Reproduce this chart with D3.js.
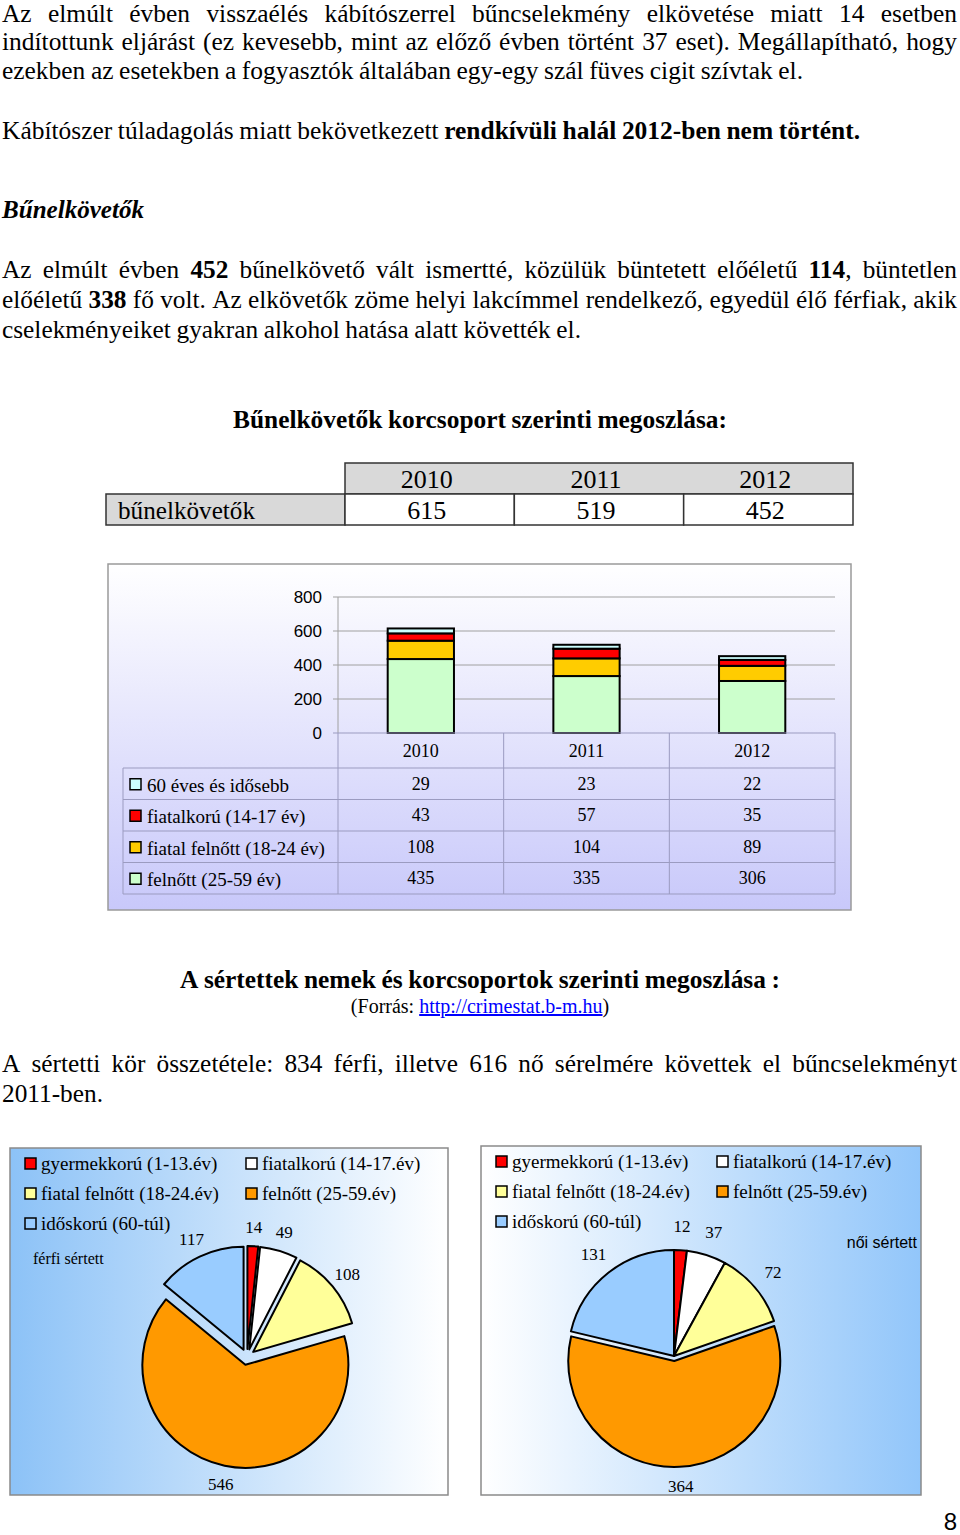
<!DOCTYPE html>
<html>
<head>
<meta charset="utf-8">
<script src="https://cdn.jsdelivr.net/npm/d3@7"></script>
<style>
  body { margin: 0; background: #fff; }
  svg { display: block; }
</style>
</head>
<body>
<div id="page"></div>
<script>
// ---- data ----
const years = ["2010", "2011", "2012"];
const offendersTotal = [615, 519, 452];

const ageGroups = ["felnőtt (25-59 év)", "fiatal felnőtt (18-24 év)", "fiatalkorú (14-17 év)", "60 éves és idősebb"];
const adults = [435, 335, 306];
const youngAdults = [108, 104, 89];
const juveniles = [43, 57, 35];
const elderly = [29, 23, 22];
const yTicks = [0, 200, 400, 600, 800];

const victimGroups = ["gyermekkorú (1-13.év)", "fiatalkorú (14-17.év)", "fiatal felnőtt (18-24.év)", "felnőtt (25-59.év)", "időskorú (60-túl)"];
const maleVictims = [14, 49, 108, 546, 117];
const femaleVictims = [12, 37, 72, 364, 131];

// ---- text ----
const para1 = [
  "Az elmúlt évben visszaélés kábítószerrel bűncselekmény elkövetése miatt 14 esetben",
  "indítottunk eljárást (ez kevesebb, mint az előző évben történt 37 eset).  Megállapítható, hogy",
  "ezekben az esetekben a fogyasztók általában egy-egy szál füves cigit szívtak el."
];
const deathLine = "Kábítószer túladagolás miatt bekövetkezett *rendkívüli* *halál* *2012-ben* *nem* *történt.*";
const offHeading = "Bűnelkövetők";
const para2 = [
  "Az elmúlt évben *452* bűnelkövető vált ismertté, közülük büntetett előéletű *114*, büntetlen",
  "előéletű *338* fő volt. Az elkövetők zöme helyi lakcímmel rendelkező, egyedül élő férfiak, akik",
  "cselekményeiket gyakran alkohol hatása alatt követték el."
];
const barTitle = "Bűnelkövetők korcsoport szerinti megoszlása:";
const tableLabel = "bűnelkövetők";
const victimTitle = "A sértettek nemek és korcsoportok szerinti megoszlása :";
const sourceText = "(Forrás: ";
const sourceLink = "http://crimestat.b-m.hu";
const para3 = [
  "A sértetti kör összetétele: 834 férfi, illetve 616 nő sérelmére követtek el bűncselekményt",
  "2011-ben."
];

const serif = "'Liberation Serif','Times New Roman',serif";
const sans = "'Liberation Sans',Arial,sans-serif";

const svg = d3.select("#page").append("svg")
  .attr("width", 960)
  .attr("height", 1535);

const defs = svg.append("defs");
function linGrad(id, x2, y2, c1, c2) {
  const g = defs.append("linearGradient").attr("id", id)
    .attr("x1", 0).attr("y1", 0).attr("x2", x2).attr("y2", y2);
  g.append("stop").attr("offset", "0%").attr("stop-color", c1);
  g.append("stop").attr("offset", "100%").attr("stop-color", c2);
}
linGrad("barBg", 0, 1, "#ffffff", "#c8c8fa");
linGrad("pieBgL", 1, 0, "#8cc2f7", "#ffffff");
linGrad("pieBgR", 1, 0, "#ffffff", "#92c6fa");

// place a line word by word; *word* = bold. returns the glyph scale used
function textLine(str, o) {
  const g = svg.append("g");
  const words = str.trim().split(/\s+/);
  const size = o.size || 26;
  const nodes = words.map(w => {
    const t = g.append("text")
      .attr("y", o.y)
      .style("font-family", o.family || serif)
      .style("font-size", size + "px")
      .style("font-style", o.italic ? "italic" : "normal")
      .style("font-weight", o.bold ? "bold" : "normal");
    w.split(/(\*[^*]+\*)/).filter(s => s).forEach(s => {
      const b = s.startsWith("*");
      t.append("tspan").style("font-weight", b || o.bold ? "bold" : "normal")
        .text(b ? s.slice(1, -1) : s);
    });
    return t;
  });
  const widths = nodes.map(t => t.node().getComputedTextLength());
  const space = size * 0.22;
  const sum = d3.sum(widths);
  let scale, gap;
  if (o.justify) {
    scale = o.scale || 1;
    gap = words.length > 1 ? ((o.x1 - o.x0) - sum * scale) / (words.length - 1) : 0;
  } else {
    scale = (o.x1 - o.x0) / (sum + space * (words.length - 1));
    gap = space * scale;
  }
  let x = o.x0;
  nodes.forEach((t, i) => {
    const w = widths[i] * scale;
    t.attr("x", x).attr("textLength", w).attr("lengthAdjust", "spacingAndGlyphs");
    x += w + gap;
  });
  return scale;
}

// ---- top text ----
const lineY1 = [22, 50, 79];
const s1 = textLine(para1[2], { x0: 2, x1: 803, y: lineY1[2] });
para1.slice(0, 2).forEach((s, i) => textLine(s, { x0: 2, x1: 957, y: lineY1[i], justify: true, scale: s1 }));
textLine(deathLine, { x0: 2, x1: 860, y: 139 });
textLine(offHeading, { x0: 2, x1: 144, y: 218, bold: true, italic: true });
const lineY2 = [278, 308, 338];
const s2 = textLine(para2[2], { x0: 2, x1: 581, y: lineY2[2] });
para2.slice(0, 2).forEach((s, i) => textLine(s, { x0: 2, x1: 957, y: lineY2[i], justify: true, scale: s2 }));
textLine(barTitle, { x0: 233, x1: 727, y: 428, bold: true, size: 25 });

// ---- summary table ----
const tcol = d3.scaleBand().domain(years).range([345, 853]);
const tbl = svg.append("g");
tbl.append("rect").attr("x", tcol.range()[0]).attr("y", 463)
  .attr("width", tcol.range()[1] - tcol.range()[0]).attr("height", 31)
  .attr("fill", "#d9d9d9").attr("stroke", "#333").attr("stroke-width", 1.5);
tbl.append("rect").attr("x", 106).attr("y", 494).attr("width", tcol.range()[0] - 106).attr("height", 31)
  .attr("fill", "#d9d9d9").attr("stroke", "#333").attr("stroke-width", 1.5);
tbl.selectAll(".vcell").data(years).enter().append("rect")
  .attr("x", d => tcol(d)).attr("y", 494)
  .attr("width", tcol.bandwidth()).attr("height", 31)
  .attr("fill", "#fff").attr("stroke", "#333").attr("stroke-width", 1.5);
tbl.selectAll(".yh").data(years).enter().append("text")
  .attr("x", d => tcol(d) + tcol.bandwidth() / 2 - 3).attr("y", 488)
  .attr("text-anchor", "middle")
  .style("font-family", serif).style("font-size", "26px")
  .text(d => d);
tbl.selectAll(".yv").data(offendersTotal).enter().append("text")
  .attr("x", (d, i) => tcol(years[i]) + tcol.bandwidth() / 2 - 3).attr("y", 519)
  .attr("text-anchor", "middle")
  .style("font-family", serif).style("font-size", "26px")
  .text(d => d);
tbl.append("text").attr("x", 118).attr("y", 519)
  .style("font-family", serif).style("font-size", "26px")
  .attr("textLength", 137).attr("lengthAdjust", "spacingAndGlyphs")
  .text(tableLabel);

// ---- stacked bar chart ----
svg.append("rect").attr("x", 108).attr("y", 564).attr("width", 743).attr("height", 346)
  .attr("fill", "url(#barBg)").attr("stroke", "#9a9a9a").attr("stroke-width", 1.5);

const x = d3.scaleBand().domain(years).range([338, 835]).paddingInner(0.6).paddingOuter(0.3);
const y = d3.scaleLinear().domain([0, 800]).range([733, 597]);
const step = x.step();
const cellLeft = d => x(d) - (step - x.bandwidth()) / 2;

const grid = svg.append("g");
grid.selectAll("line").data(yTicks.filter(t => t > 0)).enter().append("line")
  .attr("x1", 333).attr("x2", 835)
  .attr("y1", d => y(d)).attr("y2", d => y(d))
  .attr("stroke", "#a0a0a0").attr("stroke-width", 1);
grid.append("line").attr("x1", 338).attr("x2", 338).attr("y1", y(800)).attr("y2", y(0))
  .attr("stroke", "#a0a0a0");
grid.selectAll("text").data(yTicks).enter().append("text")
  .attr("x", 322).attr("y", d => y(d) + 6)
  .attr("text-anchor", "end")
  .style("font-family", sans).style("font-size", "17px")
  .text(d => d);

const seriesValues = [adults, youngAdults, juveniles, elderly];
const barColors = ["#ccffcc", "#ffcc00", "#ff0000", "#ccffff"];
const rows = years.map((yr, i) => {
  const r = { year: yr };
  ageGroups.forEach((g, k) => r[g] = seriesValues[k][i]);
  return r;
});
const stacked = d3.stack().keys(ageGroups)(rows);
svg.append("g").selectAll("g").data(stacked).enter().append("g")
  .attr("fill", (d, i) => barColors[i])
  .selectAll("rect").data(d => d).enter().append("rect")
  .attr("x", d => x(d.data.year))
  .attr("y", d => y(d[1]))
  .attr("width", x.bandwidth())
  .attr("height", d => y(d[0]) - y(d[1]))
  .attr("stroke", "#000").attr("stroke-width", 2);

// data table under bars
const dt = svg.append("g");
const lineCol = "#9b9bc0";
const rowTop = 768, rowH = 31.5;
const tableRows = [elderly, juveniles, youngAdults, adults];
const tableNames = [ageGroups[3], ageGroups[2], ageGroups[1], ageGroups[0]];
const tableColors = [barColors[3], barColors[2], barColors[1], barColors[0]];
dt.append("line").attr("x1", 333).attr("x2", 835).attr("y1", y(0)).attr("y2", y(0)).attr("stroke", lineCol);
years.forEach(yr => {
  dt.append("line").attr("x1", cellLeft(yr)).attr("x2", cellLeft(yr))
    .attr("y1", y(0)).attr("y2", rowTop + rowH * 4).attr("stroke", lineCol);
});
dt.append("line").attr("x1", 835).attr("x2", 835).attr("y1", y(0)).attr("y2", rowTop + rowH * 4).attr("stroke", lineCol);
dt.append("line").attr("x1", 123).attr("x2", 123).attr("y1", rowTop).attr("y2", rowTop + rowH * 4).attr("stroke", lineCol);
d3.range(5).forEach(k => {
  dt.append("line").attr("x1", 123).attr("x2", 835)
    .attr("y1", rowTop + rowH * k).attr("y2", rowTop + rowH * k).attr("stroke", lineCol);
});
dt.selectAll(".cat").data(years).enter().append("text")
  .attr("x", d => x(d) + x.bandwidth() / 2).attr("y", 757)
  .attr("text-anchor", "middle")
  .style("font-family", serif).style("font-size", "18px")
  .text(d => d);
tableRows.forEach((vals, k) => {
  const cy = rowTop + rowH * k + rowH / 2;
  dt.append("rect").attr("x", 130).attr("y", cy - 5).attr("width", 11).attr("height", 11)
    .attr("fill", tableColors[k]).attr("stroke", "#000").attr("stroke-width", 1.5);
  dt.append("text").attr("x", 147).attr("y", cy + 8)
    .style("font-family", serif).style("font-size", "19px")
    .text(tableNames[k]);
  dt.selectAll(".v" + k).data(vals).enter().append("text")
    .attr("x", (d, i) => x(years[i]) + x.bandwidth() / 2).attr("y", cy + 6)
    .attr("text-anchor", "middle")
    .style("font-family", serif).style("font-size", "18px")
    .text(d => d);
});

// ---- victims heading ----
textLine(victimTitle, { x0: 180, x1: 780, y: 988, bold: true });
const src = svg.append("text").attr("x", 480).attr("y", 1013).attr("text-anchor", "middle")
  .style("font-family", serif).style("font-size", "20px");
src.append("tspan").text(sourceText);
src.append("tspan").attr("fill", "#0000ff").style("text-decoration", "underline").text(sourceLink);
src.append("tspan").text(")");
textLine(para3[0], { x0: 2, x1: 957, y: 1072, justify: true, scale: s2 });
textLine(para3[1], { x0: 2, x1: 103, y: 1102 });

// ---- pies ----
const pieColors = ["#ff0000", "#ffffff", "#ffff99", "#ff9900", "#99ccff"];

function drawPie(o) {
  const g = svg.append("g");
  g.append("rect").attr("x", o.box[0]).attr("y", o.box[1])
    .attr("width", o.box[2]).attr("height", o.box[3])
    .attr("fill", o.bg).attr("stroke", "#8a8a8a").attr("stroke-width", 1.5);

  // legend
  victimGroups.forEach((name, i) => {
    const lx = o.legX[i % 2], ly = o.legY[Math.floor(i / 2)];
    g.append("rect").attr("x", lx).attr("y", ly - 6).attr("width", 11).attr("height", 11)
      .attr("fill", pieColors[i]).attr("stroke", "#000").attr("stroke-width", 1.5);
    g.append("text").attr("x", lx + 16).attr("y", ly + 6)
      .style("font-family", serif).style("font-size", "19px")
      .text(name);
  });

  const pie = d3.pie().sort(null).value(d => d);
  const arc = d3.arc().innerRadius(0).outerRadius(o.r);
  const arcs = pie(o.values);
  const pg = g.append("g").attr("transform", `translate(${o.cx},${o.cy})`);
  pg.selectAll("path").data(arcs).enter().append("path")
    .attr("d", arc)
    .attr("transform", (d, i) => {
      const a = (d.startAngle + d.endAngle) / 2, e = o.explode[i];
      return `translate(${Math.sin(a) * e},${-Math.cos(a) * e})`;
    })
    .attr("fill", (d, i) => pieColors[i])
    .attr("stroke", "#000").attr("stroke-width", 2).attr("stroke-linejoin", "round");
  pg.selectAll("text").data(arcs).enter().append("text")
    .attr("x", d => Math.sin((d.startAngle + d.endAngle) / 2) * 130)
    .attr("y", d => -Math.cos((d.startAngle + d.endAngle) / 2) * 130 + 6)
    .attr("text-anchor", "middle")
    .style("font-family", serif).style("font-size", "17px")
    .text(d => d.data);

  g.append("text").attr("x", o.title[0]).attr("y", o.title[1])
    .attr("text-anchor", o.title[2])
    .style("font-family", o.title[3]).style("font-size", "16px")
    .text(o.title[4]);
}

drawPie({
  box: [10, 1148, 438, 347], bg: "url(#pieBgL)",
  legX: [25, 246], legY: [1164, 1194, 1224],
  cx: 247, cy: 1357, r: 103, values: maleVictims, explode: [8, 8, 8, 8, 8],
  title: [33, 1264, "start", serif, "férfi sértett"]
});
drawPie({
  box: [481, 1146, 440, 349], bg: "url(#pieBgR)",
  legX: [496, 717], legY: [1162, 1192, 1222],
  cx: 674, cy: 1356, r: 106, values: femaleVictims, explode: [0, 0, 0, 5, 0],
  title: [917, 1248, "end", sans, "női sértett"]
});

// page number
svg.append("text").attr("x", 957).attr("y", 1530).attr("text-anchor", "end")
  .style("font-family", sans).style("font-size", "24px")
  .text("8");
</script>
</body>
</html>
